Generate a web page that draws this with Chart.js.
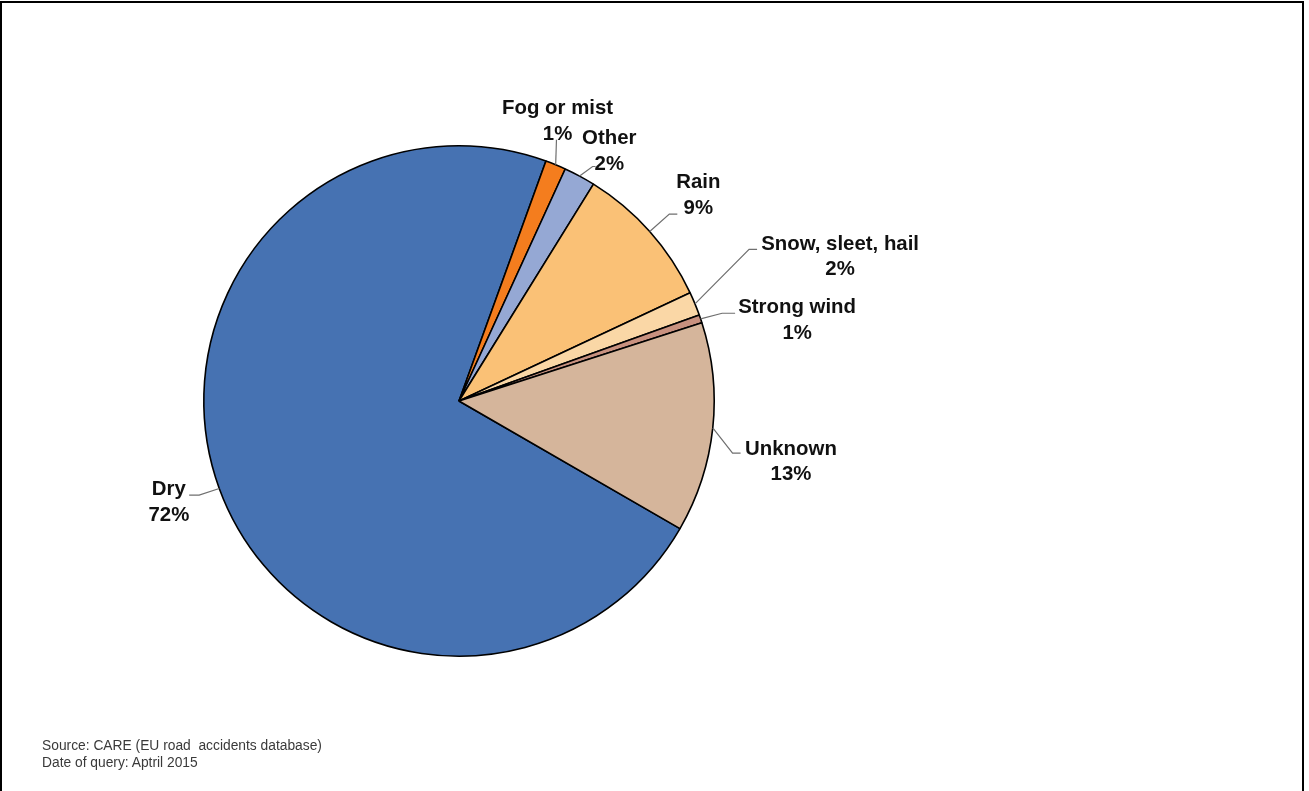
<!DOCTYPE html>
<html>
<head>
<meta charset="utf-8">
<script src="https://cdn.jsdelivr.net/npm/chart.js@4/dist/chart.umd.min.js"></script>
<style>
  html, body { margin: 0; padding: 0; background: #fff; width: 1309px; height: 791px; overflow: hidden; }
  #wrap { position: absolute; left: 0; top: 0; width: 1309px; height: 791px; }
  #frame { position: absolute; left: 0; top: 1px; width: 1304px; height: 820px; box-sizing: border-box;
           border-top: 2px solid #000; border-left: 2px solid #000; border-right: 2px solid #000; pointer-events: none; }
  #note { position: absolute; left: 42px; top: 737px; font-family: "Liberation Sans", Arial, sans-serif;
          font-size: 13.8px; line-height: 17px; color: #3a3a3a; white-space: pre; }
</style>
</head>
<body>
<div id="wrap">
  <canvas id="c" width="1309" height="791"></canvas>
  <div id="frame"></div>
  <div id="note">Source: CARE (EU road  accidents database)
Date of query: Aptril 2015</div>
</div>
<script>
// ---- data ----
const categories = ['Dry', 'Fog or mist', 'Other', 'Rain', 'Snow, sleet, hail', 'Strong wind', 'Unknown'];
const shares = [72.2, 1.3, 2.0, 9.2, 1.5, 0.5, 13.3];
const sliceColors = ['#4672B2', '#F47D1E', '#95A8D4', '#FAC176', '#FAD7A6', '#C8917F', '#D5B59B'];

// label placement relative to each slice's outer mid point (layout only)
const labelTextOffset = [[-50.4, -0.3], [1.9, -58], [29.7, -38.9], [48.6, -51], [145.1, -61.6], [96.5, -13.1], [78.2, 19.3]];
const leaderEndOffset = [[-20.1, 6.7], [0.8, -25], [13, -9.6], [19.6, -17.3], [54.1, -54.5], [21.5, -5.6], [19.8, 25.1]];
const leaderTail = [-10, 0, 3, 8, 8, 13, 8];

const labelPlugin = {
  id: 'pieLabels',
  afterDatasetsDraw(chart) {
    const ctx = chart.ctx;
    const meta = chart.getDatasetMeta(0);
    const data = chart.data.datasets[0].data;
    ctx.save();
    meta.data.forEach((arc, i) => {
      const p = arc.getProps(['x', 'y', 'startAngle', 'endAngle', 'outerRadius'], true);
      const mid = (p.startAngle + p.endAngle) / 2;
      const ex = p.x + p.outerRadius * Math.cos(mid);
      const ey = p.y + p.outerRadius * Math.sin(mid);
      // leader line
      const lx = ex + leaderEndOffset[i][0];
      const ly = ey + leaderEndOffset[i][1];
      ctx.strokeStyle = '#6f6f6f';
      ctx.lineWidth = 1.2;
      ctx.beginPath();
      ctx.moveTo(ex, ey);
      ctx.lineTo(lx, ly);
      if (leaderTail[i] !== 0) ctx.lineTo(lx + leaderTail[i], ly);
      ctx.stroke();
      // text
      const tx = ex + labelTextOffset[i][0];
      const ty = ey + labelTextOffset[i][1];
      ctx.fillStyle = '#111';
      ctx.font = 'bold 20.4px "Liberation Sans", Arial, sans-serif';
      ctx.textAlign = 'center';
      ctx.textBaseline = 'alphabetic';
      ctx.fillText(chart.data.labels[i], tx, ty + 7.3);
      ctx.fillText(Math.round(data[i]) + '%', tx, ty + 7.3 + 25.8);
    });
    ctx.restore();
  }
};

new Chart(document.getElementById('c'), {
  type: 'pie',
  data: {
    labels: categories,
    datasets: [{
      data: shares,
      backgroundColor: sliceColors,
      borderColor: '#000',
      borderWidth: 1.6
    }]
  },
  options: {
    responsive: false,
    animation: false,
    rotation: 120,
    layout: { padding: { left: 203, right: 594, top: 145, bottom: 134 } },
    plugins: {
      legend: { display: false },
      tooltip: { enabled: false },
      title: { display: false }
    }
  },
  plugins: [labelPlugin]
});
</script>
</body>
</html>
